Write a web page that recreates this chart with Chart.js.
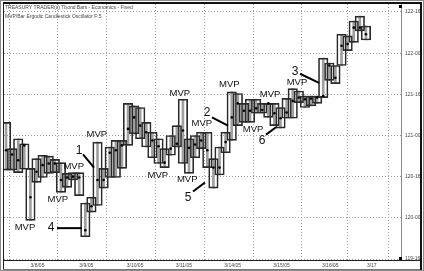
<!DOCTYPE html>
<html>
<head>
<meta charset="utf-8">
<script src="https://cdn.jsdelivr.net/npm/chart.js@4.4.1/dist/chart.umd.min.js"></script>
<style>
  html, body { margin: 0; padding: 0; background: #fff; }
  canvas { display: block; }
</style>
</head>
<body>
<canvas id="chart" width="424" height="271"></canvas>
<script>
/* ---------- Datos: cajas (máximo / mínimo), cierres ---------- */
const boxHigh = [
  121.16, 120.84, 120.96, 120.90, 120.60, 120.72, 120.76, 120.75, 120.71, 120.67,
  120.54, 120.55, 120.55, 120.18, 120.25, 120.92, 120.60, 120.86, 120.94, 120.94,
  121.39, 121.36, 121.34, 121.16, 121.04, 120.96, 120.84, 121.00, 121.12, 121.44,
  120.96, 121.00, 121.04, 121.04, 120.72, 120.86, 121.04, 121.53, 121.51, 121.39,
  121.44, 121.44, 121.39, 121.39, 121.39, 121.34, 121.45, 121.57, 121.54, 121.48,
  121.48, 121.48, 121.94, 121.88, 121.85, 122.23, 122.21, 122.39, 122.45, 122.33
];
const boxLow = [
  120.58, 120.58, 120.55, 120.59, 119.97, 120.43, 120.49, 120.54, 120.55, 120.31,
  120.37, 120.46, 120.27, 119.77, 120.07, 120.15, 120.36, 120.49, 120.49, 120.60,
  120.88, 121.02, 120.96, 120.86, 120.73, 120.66, 120.61, 120.76, 120.86, 120.66,
  120.54, 120.73, 120.84, 120.61, 120.36, 120.52, 120.79, 120.94, 121.12, 121.16,
  121.16, 121.27, 121.27, 121.22, 121.12, 121.09, 121.21, 121.21, 121.40, 121.34,
  121.36, 121.39, 121.46, 121.67, 121.63, 121.85, 122.03, 122.13, 122.27, 122.16
];
const closes = [
  120.82, 120.77, 120.70, 120.88, 120.25, 120.56, 120.64, 120.66, 120.66, 120.46,
  120.49, 120.50, 120.49, 119.85, 120.14, 120.46, 120.46, 120.79, 120.82, 120.88,
  121.08, 121.22, 121.12, 121.04, 120.94, 120.87, 120.67, 120.84, 120.90, 121.06,
  120.85, 120.89, 120.94, 120.82, 120.61, 120.61, 120.92, 121.22, 121.39, 121.30,
  121.30, 121.33, 121.31, 121.39, 121.27, 121.21, 121.28, 121.42, 121.46, 121.44,
  121.45, 121.46, 121.48, 121.85, 121.70, 122.09, 122.11, 122.31, 122.31, 122.23
];

/* ---------- Ejes ---------- */
const dayTicks   = [4.5, 12.5, 20.5, 28.5, 36.5, 44.5, 52.5, 59.3];
const dayLabels  = ['3/8/05', '3/9/05', '3/10/05', '3/11/05', '3/14/05', '3/15/05', '3/16/05', '3/17'];
const priceTicks = [119.5, 120, 120.5, 121, 121.5, 122, 122.5];

/* ---------- Anotaciones (barra, precio) ---------- */
const mvpX = [3.1, 8.5, 11.1, 14.9, 24.9, 28.5, 29.7, 32.1, 36.6, 40.5, 43.3, 47.7];
const mvpY = [119.89, 120.23, 120.62, 121.01, 120.52, 121.51, 120.47, 121.15, 121.62, 121.07, 121.50, 121.64];
const calloutText = ['1', '4', '2', '5', '6', '3'];
const calloutAt   = [[11.97, 120.81], [7.38, 119.875], [32.95, 121.28], [29.84, 120.25], [41.97, 120.94], [47.38, 121.77]];
const calloutFrom = [[12.62, 120.77], [8.36, 119.875], [33.77, 121.22], [30.66, 120.32], [42.62, 121.01], [48.20, 121.75]];
const calloutTo   = [[14.43, 120.61], [12.46, 119.875], [36.39, 121.12], [32.62, 120.43], [44.26, 121.10], [51.31, 121.64]];

const FONT = "'Liberation Sans', Arial, sans-serif";

function fmt32(v) {
  const whole = Math.floor(v + 1e-9);
  const t = Math.round((v - whole) * 32);
  return whole + '-' + String(t).padStart(2, '0');
}

const boxes = boxHigh.map((h, i) => ({ x: i, y: [boxLow[i], h] }));

/* ---------- Marco, títulos y notas ---------- */
const framePlugin = {
  id: 'frame',
  beforeDraw(chart) {
    const ctx = chart.ctx;
    ctx.save();
    ctx.fillStyle = '#fff';
    ctx.fillRect(0, 0, chart.width, chart.height);
    ctx.restore();
  },
  afterDatasetsDraw(chart) {
    const { ctx, scales: { x, y } } = chart;
    ctx.save();
    ctx.fillStyle = '#111';
    ctx.textAlign = 'center';
    ctx.textBaseline = 'middle';
    ctx.font = '9.5px ' + FONT;
    mvpX.forEach((v, i) => ctx.fillText('MVP', x.getPixelForValue(v), y.getPixelForValue(mvpY[i])));

    ctx.font = '12px ' + FONT;
    ctx.strokeStyle = '#000';
    ctx.lineWidth = 2;
    calloutText.forEach((t, i) => {
      ctx.fillText(t, x.getPixelForValue(calloutAt[i][0]), y.getPixelForValue(calloutAt[i][1]));
      ctx.beginPath();
      ctx.moveTo(x.getPixelForValue(calloutFrom[i][0]), y.getPixelForValue(calloutFrom[i][1]));
      ctx.lineTo(x.getPixelForValue(calloutTo[i][0]), y.getPixelForValue(calloutTo[i][1]));
      ctx.stroke();
    });
    ctx.restore();
  },
  afterDraw(chart) {
    const { ctx, chartArea: a } = chart;
    ctx.save();
    // borde exterior
    ctx.strokeStyle = '#8a8a8a';
    ctx.lineWidth = 1;
    ctx.strokeRect(0.5, 0.5, chart.width - 1, chart.height - 1);
    // marco del gráfico
    ctx.strokeStyle = '#222';
    ctx.beginPath();
    ctx.moveTo(3, a.bottom + 0.5); ctx.lineTo(421, a.bottom + 0.5);
    ctx.moveTo(3.5, 3); ctx.lineTo(3.5, 269);
    ctx.stroke();
    ctx.strokeStyle = '#777';
    ctx.beginPath();
    ctx.moveTo(3, 269.5); ctx.lineTo(421, 269.5);
    ctx.stroke();
    ctx.strokeStyle = '#111';
    ctx.lineWidth = 2;
    ctx.beginPath();
    ctx.moveTo(3, 3); ctx.lineTo(422, 3);
    ctx.moveTo(421, 3); ctx.lineTo(421, 270);
    ctx.stroke();
    // marcadores de rango
    ctx.fillStyle = '#000';
    ctx.fillRect(a.right - 2, 5, 3, 3);
    ctx.fillRect(a.right - 2, a.bottom - 3, 3, 3);
    // títulos
    ctx.fillStyle = '#444';
    ctx.font = '5px ' + FONT;
    ctx.textBaseline = 'middle';
    ctx.fillText('TREASURY TRADER(c) Tbond Bars - Economics - Fixed', 5, 7.5);
    ctx.fillText('MVP/Bar Ergodic Candlestick Oscillator F:5', 5, 17);
    ctx.restore();
  }
};

new Chart(document.getElementById('chart'), {
  type: 'bar',
  data: {
    datasets: [
      {
        data: boxes,
        backgroundColor: '#a0a0a0',
        barThickness: 2,
        grouped: false,
        order: 3
      },
      {
        data: boxes,
        backgroundColor: 'rgba(0,0,0,0)',
        borderColor: '#2a2a2a',
        borderWidth: 1,
        borderSkipped: false,
        barThickness: 9.5,
        grouped: false,
        order: 2
      },
      {
        type: 'scatter',
        data: closes.map((c, i) => ({ x: i, y: c })),
        pointRadius: 1.3,
        pointBackgroundColor: '#000',
        pointBorderWidth: 0,
        order: 1
      }
    ]
  },
  options: {
    responsive: false,
    animation: false,
    devicePixelRatio: 1,
    layout: { padding: { left: 4, top: 3, right: 3, bottom: 2 } },
    plugins: { legend: { display: false }, tooltip: { enabled: false } },
    scales: {
      x: {
        type: 'linear',
        min: -0.33,
        max: 64.75,
        offset: false,
        afterBuildTicks: s => { s.ticks = dayTicks.map(v => ({ value: v })); },
        afterFit: s => { s.height = 9; s.paddingLeft = 0; s.paddingRight = 0; },
        grid: { color: '#999', lineWidth: 1, drawTicks: false },
        border: { display: false, dash: [1, 2] },
        ticks: {
          color: '#444', font: { size: 5, family: FONT }, padding: 3, labelOffset: 4,
          maxRotation: 0, autoSkip: false,
          callback: (v, i) => dayLabels[i]
        }
      },
      y: {
        position: 'right',
        min: 119.488,
        max: 122.597,
        afterBuildTicks: s => { s.ticks = priceTicks.map(v => ({ value: v })); },
        afterFit: s => { s.width = 20; s.paddingTop = 0; s.paddingBottom = 0; },
        grid: { color: '#999', lineWidth: 1, drawTicks: false },
        border: { display: true, color: '#888', dash: [1, 2] },
        ticks: {
          color: '#444', font: { size: 5, family: FONT }, padding: 4,
          callback: v => fmt32(v)
        }
      }
    }
  },
  plugins: [framePlugin]
});
</script>
</body>
</html>
